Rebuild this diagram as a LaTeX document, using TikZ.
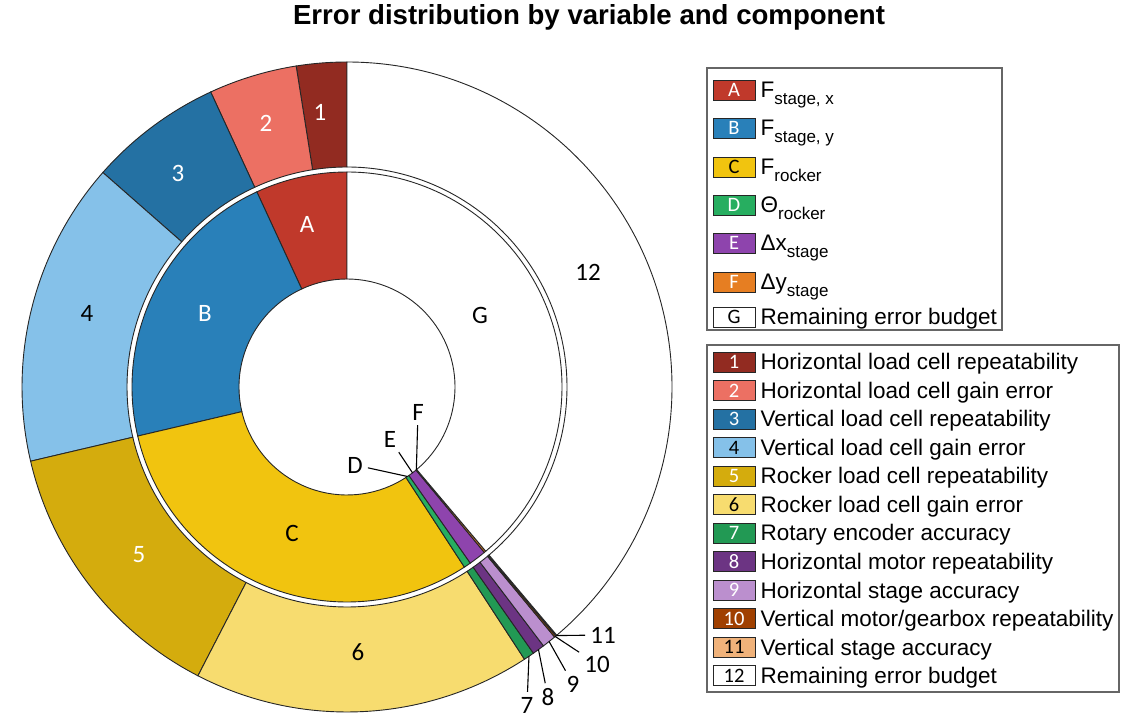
\documentclass[tikz,border=0pt]{standalone}
\usepackage{fontspec}
\setmainfont{Liberation Sans}
\newfontfamily\lblfont{Carlito}
\usetikzlibrary{positioning}

% variables (inner ring)
\definecolor{errA}{RGB}{192,57,43}
\definecolor{errB}{RGB}{41,128,185}
\definecolor{errC}{RGB}{241,196,15}
\definecolor{errD}{RGB}{39,174,96}
\definecolor{errE}{RGB}{142,68,173}
\definecolor{errF}{RGB}{230,126,34}
% components (outer ring)
\definecolor{err1}{RGB}{146,43,33}
\definecolor{err2}{RGB}{236,112,99}
\definecolor{err3}{RGB}{36,113,163}
\definecolor{err4}{RGB}{133,193,233}
\definecolor{err5}{RGB}{212,172,13}
\definecolor{err6}{RGB}{247,220,111}
\definecolor{err7}{RGB}{34,153,84}
\definecolor{err8}{RGB}{108,52,131}
\definecolor{err9}{RGB}{187,143,206}
\definecolor{err10}{RGB}{160,64,0}
\definecolor{err11}{RGB}{240,178,122}

\tikzset{
  wedge/.style={draw=black!85, line width=0.9pt},
  lbl/.style={font=\lblfont\fontsize{25}{25}\selectfont, inner sep=1pt},
  farlbl/.style={lbl, inner sep=5pt},
  leader/.style={draw=black, line width=1.1pt},
  swatch/.style={draw=black!85, line width=0.9pt, minimum width=42pt, minimum height=20pt,
    inner sep=0pt, font=\lblfont\fontsize{20.5}{20}\selectfont},
  legtext/.style={font=\fontsize{22.5}{22}\selectfont, inner sep=0pt, text height=16pt, text depth=0pt},
  legbox/.style={draw=black!60, line width=1.1pt},
}

% ring piece: colour, start angle, end angle, inner radius, outer radius
\newcommand{\ringslice}[5]{%
  \filldraw[wedge, fill=#1] (#2:#4) arc[start angle=#2, end angle=#3, radius=#4]
    -- (#3:#5) arc[start angle=#3, end angle=#2, radius=#5] -- cycle;
}
\newcommand{\legsub}[1]{\raisebox{-7pt}{\fontsize{17}{17}\selectfont #1}}

\begin{document}
\begin{tikzpicture}[x=1pt, y=1pt]
\useasboundingbox (0,0) rectangle (1133,721);

% Title
\node[font=\bfseries\fontsize{27.6}{27}\selectfont, anchor=base] (title) at (589,696)
  {Error distribution by variable and component};

\begin{scope}[shift={(347,334)}]
% Inner ring: variables
\foreach \col/\a/\b in {errA/90/114.8, errB/114.8/193.2, errC/193.2/303.1,
    errD/303.1/305.0, errE/305.0/309.7, errF/309.7/310.2, white/310.2/450}
  {\ringslice{\col}{\a}{\b}{108}{215}}

% Outer ring: components
\foreach \col/\a/\b in {err1/90/99, err2/99/114.8, err3/114.8/138.7, err4/138.7/193.2,
    err5/193.2/242.7, err6/242.7/303.1, err7/303.1/305.0, err8/305.0/307.2,
    err9/307.2/309.7, err10/309.7/310.0, err11/310.0/310.2, white/310.2/450}
  {\ringslice{\col}{\a}{\b}{220}{325}}

% leader start points
\coordinate (pD) at (304.05:108);
\coordinate (pE) at (307.35:108);
\coordinate (pF) at (309.95:108);
\coordinate (p7) at (304.05:325);
\coordinate (p8) at (306.1:325);
\coordinate (p9) at (308.45:325);
\coordinate (p10) at (309.85:325);
\coordinate (p11) at (310.1:325);
\end{scope}

% labels inside the rings
\node[lbl, text=white] (labA) at (307,497) {A};
\node[lbl, text=white] (labB) at (205,408) {B};
\node[lbl] (labC) at (292,188) {C};
\node[lbl] (labG) at (480,406) {G};
\node[lbl, text=white] (lab1) at (320,609) {1};
\node[lbl, text=white] (lab2) at (266,598) {2};
\node[lbl, text=white] (lab3) at (178,548) {3};
\node[lbl] (lab4) at (87,408) {4};
\node[lbl, text=white] (lab5) at (139,166) {5};
\node[lbl] (lab6) at (358,69) {6};
\node[lbl] (lab12) at (588,449) {12};

% small slices with leaders
\node[farlbl] (labD) at (355,256) {D};
\node[farlbl] (labE) at (390,282) {E};
\node[farlbl] (labF) at (418,309) {F};
\node[farlbl] (lab7) at (527,16) {7};
\node[farlbl] (lab8) at (548,24) {8};
\node[farlbl] (lab9) at (573,37) {9};
\node[farlbl] (lab10) at (597,57) {10};
\node[farlbl] (lab11) at (603,86) {11};
\foreach \k in {D,E,F,7,8,9,10,11}
  \draw[leader] (p\k) -- (lab\k);

% Legend: variables
\draw[legbox] (707,653) rectangle (1002,391);
\foreach \col/\k/\tc/\txt/\y in {errA/A/white/{F\legsub{stage, x}}/631,
    errB/B/white/{F\legsub{stage, y}}/593, errC/C/black/{F\legsub{rocker}}/554,
    errD/D/white/{Θ\legsub{rocker}}/516, errE/E/white/{Δx\legsub{stage}}/478,
    errF/F/white/{Δy\legsub{stage}}/439, white/G/black/{Remaining error budget}/404} {
  \node[swatch, fill=\col, text=\tc] (sw\k) at (734,\y) {\k};
  \node[legtext, right=5pt of sw\k] (tx\k) {\txt};
}

% Legend: components
\draw[legbox] (707,376) rectangle (1119,29);
\foreach \col/\k/\tc/\txt [count=\i] in {
    err1/1/white/{Horizontal load cell repeatability},
    err2/2/white/{Horizontal load cell gain error},
    err3/3/white/{Vertical load cell repeatability},
    err4/4/black/{Vertical load cell gain error},
    err5/5/white/{Rocker load cell repeatability},
    err6/6/black/{Rocker load cell gain error},
    err7/7/white/{Rotary encoder accuracy},
    err8/8/white/{Horizontal motor repeatability},
    err9/9/white/{Horizontal stage accuracy},
    err10/10/white/{Vertical motor/gearbox repeatability},
    err11/11/black/{Vertical stage accuracy},
    white/12/black/{Remaining error budget}} {
  \node[swatch, fill=\col, text=\tc] (sw\k) at (734,{359-(\i-1)*28.5}) {\k};
  \node[legtext, right=5pt of sw\k] (tx\k) {\txt};
}

\end{tikzpicture}
\end{document}
